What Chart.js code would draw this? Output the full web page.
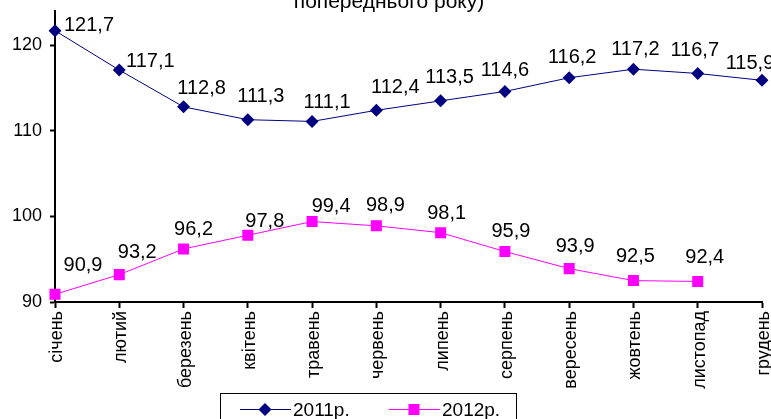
<!DOCTYPE html>
<html>
<head>
<meta charset="utf-8">
<script src="https://cdn.jsdelivr.net/npm/chart.js@4/dist/chart.umd.min.js"></script>
<style>
html, body { margin: 0; padding: 0; background: #fff; }
#wrap { width: 771px; height: 419px; position: relative; }
</style>
</head>
<body>
<div id="wrap"><canvas id="canvas"></canvas></div>
<script>
// data
const months = ['січень','лютий','березень','квітень','травень','червень','липень','серпень','вересень','жовтень','листопад','грудень']
const y2011 = [121.7,117.1,112.8,111.3,111.1,112.4,113.5,114.6,116.2,117.2,116.7,115.9]
const y2012 = [90.9,93.2,96.2,97.8,99.4,98.9,98.1,95.9,93.9,92.5,92.4,null]
const yTicks = [90,100,110,120]
const titleLine = 'попереднього року)'

// label nudges (px) so the numbers sit like in the original
const off2011 = [[34,-6],[31,-10],[18,-19],[13,-24],[15,-20],[19,-24],[9,-24],[0,-22],[3,-21],[2,-21],[-3,-24],[-12,-18]]
const off2012 = [[28,-30],[18,-23],[10,-20],[17,-15],[19,-16],[9,-21],[6,-20],[6,-21],[6,-23],[2,-25],[7,-25],[0,0]]

const FONT = "'Liberation Sans', Arial, sans-serif"

function fmt(v){ return v.toFixed(1).replace('.', ',') }

const labelsPlugin = {
    id: 'valLabels',
    afterDatasetsDraw(chart){
        const ctx = chart.ctx
        ctx.save()
        ctx.font = '20px ' + FONT
        ctx.fillStyle = '#000'
        ctx.textAlign = 'center'
        ctx.textBaseline = 'middle'
        const offs = [off2011, off2012]
        chart.data.datasets.forEach((ds, i) => {
            const meta = chart.getDatasetMeta(i)
            meta.data.forEach((pt, j) => {
                if (ds.data[j] == null) return
                ctx.fillText(fmt(ds.data[j]), pt.x + offs[i][j][0], pt.y + offs[i][j][1] + 1)
            })
        })
        ctx.restore()
    }
}

function marker(ctx, style, x, y, color){
    ctx.fillStyle = color
    ctx.beginPath()
    if (style == 'rectRot'){
        let r = 6.5
        ctx.moveTo(x - r, y); ctx.lineTo(x, y - r); ctx.lineTo(x + r, y); ctx.lineTo(x, y + r)
    } else {
        let s = 5.5
        ctx.rect(x - s, y - s, 2 * s, 2 * s)
    }
    ctx.closePath()
    ctx.fill()
}

const decorPlugin = {
    id: 'decor',
    afterDraw(chart){
        const ctx = chart.ctx
        ctx.save()
        // title (cut off at the top like the original)
        ctx.font = '21px ' + FONT
        ctx.fillStyle = '#000'
        ctx.textAlign = 'center'
        ctx.textBaseline = 'alphabetic'
        ctx.fillText(titleLine, 389, 8)

        // legend box
        ctx.strokeStyle = '#000'
        ctx.lineWidth = 1
        ctx.strokeRect(220.5, 393.5, 296, 40)
        const items = [
            {x: 240, text: '2011р.', color: '#000080', style: 'rectRot'},
            {x: 389, text: '2012р.', color: '#ff00ff', style: 'rect'}
        ]
        ctx.font = '19px ' + FONT
        ctx.textAlign = 'left'
        ctx.textBaseline = 'middle'
        items.forEach(it => {
            ctx.strokeStyle = it.color
            ctx.beginPath()
            ctx.moveTo(it.x, 409.5)
            ctx.lineTo(it.x + 51, 409.5)
            ctx.stroke()
            marker(ctx, it.style, it.x + 25, 409.5, it.color)
            ctx.fillStyle = '#000'
            ctx.fillText(it.text, it.x + 53, 411)
        })
        ctx.restore()
    }
}

new Chart(document.getElementById('canvas').getContext('2d'), {
    type: 'line',
    data: {
        labels: months,
        datasets: [
            {
                label: '2011р.',
                data: y2011,
                borderColor: '#000080',
                backgroundColor: '#000080',
                borderWidth: 1,
                pointStyle: 'rectRot',
                pointRadius: 6.5,
                pointBorderWidth: 0,
                tension: 0
            },
            {
                label: '2012р.',
                data: y2012,
                borderColor: '#ff00ff',
                backgroundColor: '#ff00ff',
                borderWidth: 1,
                pointStyle: 'rect',
                pointRadius: 7.8,
                pointBorderWidth: 0,
                tension: 0
            }
        ]
    },
    options: {
        responsive: true,
        maintainAspectRatio: false,
        animation: false,
        layout: { padding: { top: 11, right: 9, bottom: 0, left: 0 } },
        plugins: {
            legend: { display: false },
            title: { display: false },
            tooltip: { enabled: false }
        },
        scales: {
            x: {
                offset: false,
                grid: { display: true, drawOnChartArea: false, tickLength: 6, tickWidth: 2, tickColor: '#000' },
                border: { color: '#000', width: 2 },
                ticks: {
                    color: '#000',
                    font: { size: 18, family: FONT },
                    minRotation: 90,
                    maxRotation: 90,
                    autoSkip: false,
                    padding: 3,
                    labelOffset: 2
                },
                afterFit(scale){
                    scale.height = 117
                    scale.paddingLeft = 0
                    scale.paddingRight = 0
                }
            },
            y: {
                min: 90,
                max: 124,
                grid: { display: true, drawOnChartArea: false, tickLength: 5, tickWidth: 2, tickColor: '#000' },
                border: { color: '#000', width: 2 },
                ticks: {
                    color: '#000',
                    font: { size: 18, family: FONT },
                    padding: 8,
                    stepSize: 10
                },
                afterBuildTicks(scale){
                    scale.ticks = yTicks.map(v => ({ value: v }))
                },
                afterFit(scale){
                    scale.width = 55
                    scale.paddingTop = 0
                    scale.paddingBottom = 0
                }
            }
        }
    },
    plugins: [labelsPlugin, decorPlugin]
})
</script>
</body>
</html>
